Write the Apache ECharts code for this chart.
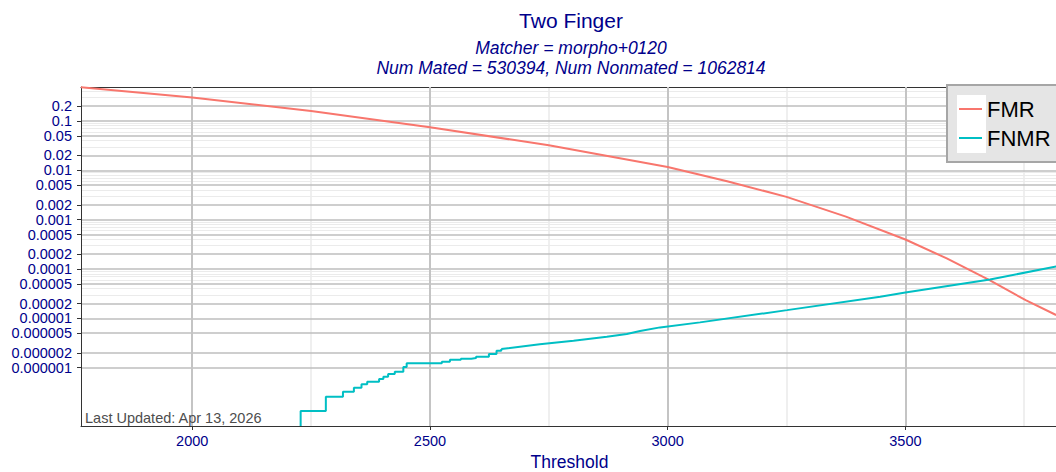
<!DOCTYPE html>
<html>
<head>
<meta charset="utf-8">
<title>Two Finger</title>
<script src="https://cdn.jsdelivr.net/npm/echarts@6/dist/echarts.min.js"></script>
<style>
  html, body { margin: 0; padding: 0; background: #fff; }
  #chart { width: 1056px; height: 472px; }
</style>
</head>
<body>
<div id="chart"></div>
<script>
// values
var fmrThreshold = [1766, 2000, 2250, 2500, 2750, 3000, 3125, 3250, 3375, 3500, 3587, 3677, 3753, 3817];
var fmrRate = [0.48, 0.298, 0.159, 0.0745, 0.0322, 0.01172, 0.00601, 0.0029, 0.00115, 0.000397, 0.000164, 0.0000596, 0.0000234, 0.0000117];

// stepped start of FNMR (first value is zero, shown on the axis floor)
var fnmrStepThreshold = [2228, 2228, 2281, 2317, 2340, 2356, 2368, 2393, 2402, 2412, 2426, 2444, 2451, 2525, 2542, 2565, 2587, 2597, 2624, 2640, 2650];
var fnmrStepRate = [6.6e-8, 1.33e-7, 2.59e-7, 3.27e-7, 3.94e-7, 4.61e-7, 5.21e-7, 5.91e-7, 6.57e-7, 7.45e-7, 8.3e-7, 1.03e-6, 1.23e-6, 1.32e-6, 1.45e-6, 1.52e-6, 1.57e-6, 1.67e-6, 1.89e-6, 2.21e-6, 2.39e-6];

var fnmrThreshold = [2650, 2731, 2802, 2872, 2914, 2942, 2984, 3068, 3251, 3447, 3500, 3678, 3821];
var fnmrRate = [2.39e-6, 2.98e-6, 3.52e-6, 4.25e-6, 4.81e-6, 5.53e-6, 6.57e-6, 8.3e-6, 1.47e-5, 2.74e-5, 3.36e-5, 6.15e-5, 1.14e-4];

var xTicks = [2000, 2500, 3000, 3500];
var xMinorTicks = [2250, 2750, 3250, 3750];
var yTicks = [0.2, 0.1, 0.05, 0.02, 0.01, 0.005, 0.002, 0.001, 0.0005, 0.0002, 0.0001,
  0.00005, 0.00002, 0.00001, 0.000005, 0.000002, 0.000001];
var yTickLabels = ["0.2", "0.1", "0.05", "0.02", "0.01", "0.005", "0.002", "0.001", "0.0005",
  "0.0002", "0.0001", "0.00005", "0.00002", "0.00001", "0.000005", "0.000002", "0.000001"];
var yMinorTicks = [0.4, 0.3, 0.09, 0.08, 0.07, 0.06, 0.04, 0.03,
  0.009, 0.008, 0.007, 0.006, 0.004, 0.003,
  0.0009, 0.0008, 0.0007, 0.0006, 0.0004, 0.0003,
  0.00009, 0.00008, 0.00007, 0.00006, 0.00004, 0.00003];

// the y axis is a log10 scale: values go onto a value axis as exponents
function lg(v) { return Math.log10(v); }
function pairs(xs, ys) {
  return xs.map(function (x, i) { return [x, lg(ys[i])]; });
}

var FONT = "Liberation Sans, Arial, sans-serif";
var BLUE = "#00008b";
var xMin = 1766, xMax = 3821, yMin = 6.6e-8, yMax = 0.4875;

var chart = echarts.init(document.getElementById("chart"), null, { renderer: "svg" });

chart.setOption({
  animation: false,
  backgroundColor: "#fff",
  textStyle: { fontFamily: FONT },
  grid: { left: 81, right: -2, top: 87, bottom: 46, containLabel: false, outerBoundsMode: "none" },
  xAxis: [
    {
      type: "value",
      min: xMin,
      max: xMax,
      z: 1,
      name: "Threshold",
      nameLocation: "middle",
      nameGap: 27,
      nameTextStyle: { color: BLUE, fontSize: 17.5, lineHeight: 17, fontFamily: FONT },
      axisLine: { show: true, lineStyle: { color: "#333", width: 1 } },
      axisTick: { show: true, length: 4, customValues: xTicks, lineStyle: { color: "#333" } },
      axisLabel: {
        customValues: xTicks, color: BLUE, fontSize: 14.5, fontFamily: FONT, margin: 7,
        formatter: function (v) { return String(v); }
      },
      splitLine: { show: true, lineStyle: { color: "#c4c4c4", width: 2 } }
    },
    {
      type: "value",
      position: "top",
      min: xMin,
      max: xMax,
      z: 0,
      axisLine: { show: true, lineStyle: { color: "#333", width: 1 } },
      axisTick: { show: false, customValues: xMinorTicks },
      axisLabel: { show: false, customValues: xMinorTicks },
      splitLine: { show: true, lineStyle: { color: "#ebebeb", width: 1.6 } }
    }
  ],
  yAxis: [
    {
      type: "value",
      min: lg(yMin),
      max: lg(yMax),
      z: 1,
      axisLine: { show: true, lineStyle: { color: "#333", width: 1 } },
      axisTick: { show: true, length: 4, customValues: yTicks.map(lg), lineStyle: { color: "#333" } },
      axisLabel: {
        customValues: yTicks.map(lg),
        interval: 0,
        hideOverlap: false,
        showMinLabel: true,
        showMaxLabel: true,
        color: BLUE,
        fontSize: 14.5,
        lineHeight: 12,
        fontFamily: FONT,
        margin: 9,
        formatter: function (v) {
          for (var i = 0; i < yTicks.length; i++) {
            if (Math.abs(v - lg(yTicks[i])) < 1e-4) return yTickLabels[i];
          }
          return "";
        }
      },
      splitLine: { show: true, lineStyle: { color: "#bebebe", width: 1.5 } }
    },
    {
      type: "value",
      min: lg(yMin),
      max: lg(yMax),
      z: 0,
      axisLine: { show: false },
      axisTick: { show: false, customValues: yMinorTicks.map(lg) },
      axisLabel: { show: false, customValues: yMinorTicks.map(lg) },
      splitLine: { show: true, lineStyle: { color: "#ebebeb", width: 1 } }
    }
  ],
  legend: {
    data: ["FMR", "FNMR"],
    orient: "vertical",
    left: 959,
    top: 98,
    padding: 0,
    icon: "rect",
    itemWidth: 23,
    itemHeight: 2,
    itemGap: 7,
    z: 10,
    textStyle: { color: "#000", fontSize: 22, fontFamily: FONT, lineHeight: 22 }
  },
  graphic: [
    {
      type: "rect", z: 5,
      shape: { x: 947, y: 85, width: 130, height: 77 },
      style: { fill: "#e5e5e5", stroke: "#a6a6a6", lineWidth: 2 }
    },
    {
      type: "rect", z: 6,
      shape: { x: 957, y: 95, width: 29, height: 58 },
      style: { fill: "#fff" }
    },
    {
      type: "text", z: 6, x: 571, y: 20,
      style: { text: "Two Finger", fill: BLUE, font: "21px " + FONT, textAlign: "center", textVerticalAlign: "middle" }
    },
    {
      type: "text", z: 6, x: 571, y: 48,
      style: { text: "Matcher = morpho+0120", fill: BLUE, font: "italic 17.5px " + FONT, textAlign: "center", textVerticalAlign: "middle" }
    },
    {
      type: "text", z: 6, x: 571, y: 67.5,
      style: { text: "Num Mated = 530394, Num Nonmated = 1062814", fill: BLUE, font: "italic 17.5px " + FONT, textAlign: "center", textVerticalAlign: "middle" }
    },
    {
      type: "text", z: 6, x: 85, y: 418,
      style: { text: "Last Updated: Apr 13, 2026", fill: "#4d4d4d", font: "14.5px " + FONT, textAlign: "left", textVerticalAlign: "middle" }
    }
  ],
  series: [
    {
      name: "FMR",
      type: "line",
      symbol: "none",
      color: "#f8766d",
      lineStyle: { color: "#f8766d", width: 2 },
      data: pairs(fmrThreshold, fmrRate)
    },
    {
      name: "FNMR",
      type: "line",
      symbol: "none",
      step: "end",
      color: "#00bfc4",
      lineStyle: { color: "#00bfc4", width: 2 },
      data: pairs(fnmrStepThreshold, fnmrStepRate)
    },
    {
      name: "FNMR",
      type: "line",
      symbol: "none",
      color: "#00bfc4",
      lineStyle: { color: "#00bfc4", width: 2 },
      data: pairs(fnmrThreshold, fnmrRate)
    }
  ]
});
</script>
</body>
</html>
